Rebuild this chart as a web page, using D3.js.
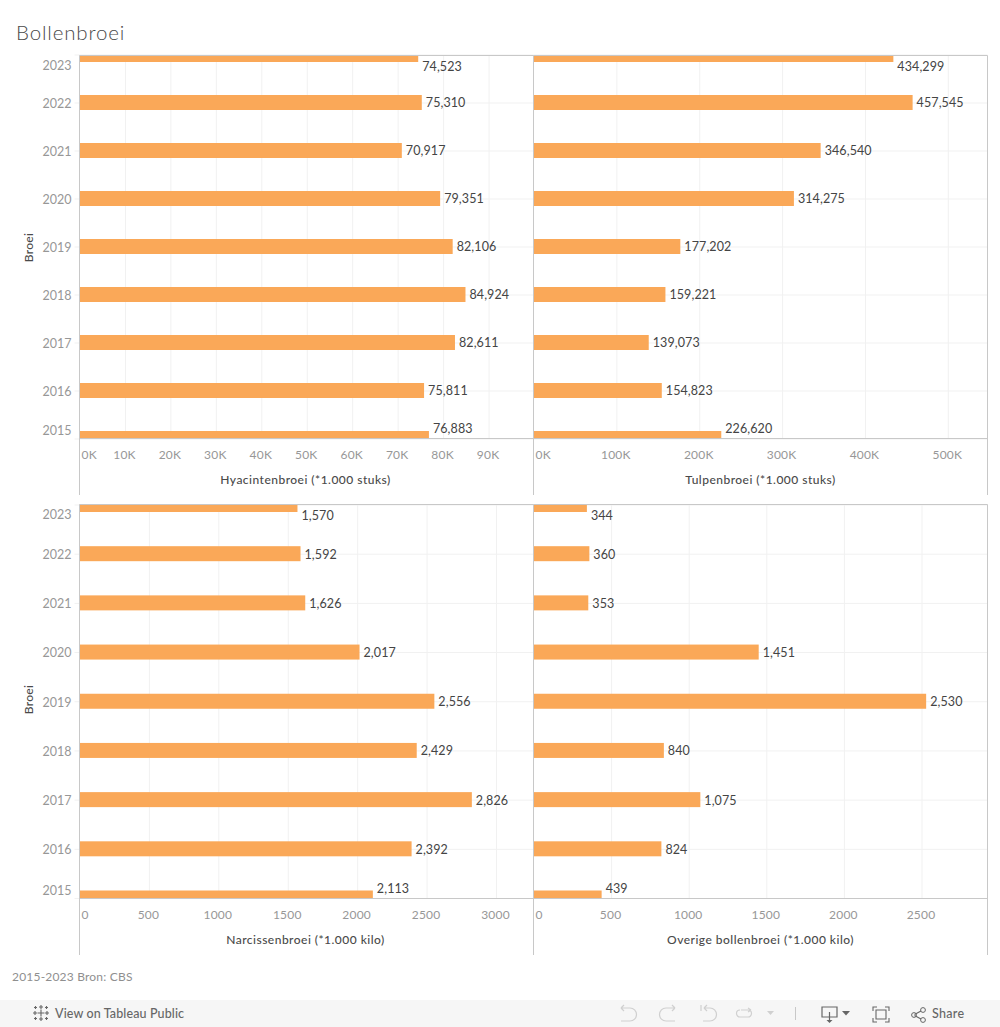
<!DOCTYPE html>
<html><head><meta charset="utf-8">
<script src="https://cdnjs.cloudflare.com/ajax/libs/d3/7.8.5/d3.min.js"></script>
<style>html,body{margin:0;padding:0;background:#fff}svg{display:block}
text{font-family:Lato,"Open Sans",sans-serif}</style></head><body>
<script>
const years = [2023,2022,2021,2020,2019,2018,2017,2016,2015];
const hyacint = [74523,75310,70917,79351,82106,84924,82611,75811,76883];
const tulp = [434299,457545,346540,314275,177202,159221,139073,154823,226620];
const narcis = [1570,1592,1626,2017,2556,2429,2826,2392,2113];
const overig = [344,360,353,1451,2530,840,1075,824,439];
const hyacintTicks = [0,10000,20000,30000,40000,50000,60000,70000,80000,90000];
const tulpTicks = [0,100000,200000,300000,400000,500000];
const narcisTicks = [0,500,1000,1500,2000,2500,3000];
const overigTicks = [0,500,1000,1500,2000,2500];

const W=1000,H=1027;
const svg=d3.select("body").append("svg").attr("width",W).attr("height",H);
const BAR="#faa858",AX="#c8c8c8",GR="#f1f1f1",TICK="#979797",DARK="#444444";
const kFmt=d=>(d/1000)+"K", nFmt=d=>String(d), valFmt=d3.format(",");

svg.append("text").attr("x",16).attr("y",39.5).attr("font-size",20.5).attr("font-weight",300)
  .attr("letter-spacing",0.85).attr("fill","#4a4a4a").text("Bollenbroei");

const defs=svg.append("defs");
function panel(id,x0,x1,top,bot,yTop,yBot,end,vals,dom,rng,ticks,fmt,title,showY){
  const x=d3.scaleLinear().domain(dom).range(rng);
  const y=d3.scalePoint().domain(years).range([yTop,yBot]);
  const g=svg.append("g");
  // gridlines
  const gx=g.append("g").attr("transform",`translate(0,${bot})`)
    .call(d3.axisBottom(x).tickValues(ticks).tickSize(-(bot-top)).tickFormat(fmt));
  gx.select(".domain").remove();
  gx.selectAll(".tick line").attr("stroke",GR).filter(d=>d===0).remove();
  gx.selectAll(".tick text").attr("y",16).attr("dy","0.35em").attr("font-size",12).attr("fill",TICK)
    .attr("font-family","Lato,sans-serif").attr("font-weight",400).attr("letter-spacing",0.2)
    .attr("text-anchor",d=>d===0?"start":"middle").attr("dx",d=>d===0?1.5:-1);
  const gy=g.append("g").attr("transform",`translate(${x0},0)`)
    .call(d3.axisLeft(y).tickSize(showY?5:0).tickFormat(d=>showY?d:""));
  gy.select(".domain").remove();
  gy.selectAll(".tick line").attr("stroke",GR);
  gy.selectAll(".tick").each(function(d){
     const s=d3.select(this);
     s.append("line").attr("x1",0).attr("x2",x1-x0).attr("stroke",GR);
     s.select("text").attr("x",-8).attr("font-size",12.5).attr("fill",TICK)
       .attr("font-family","Lato,sans-serif").attr("dy","0.35em")
       .attr("y",Math.max(top+9.5,Math.min(bot-8.5,y(d)))-y(d)+0.5);
  });
  // bars, clipped by the pane
  defs.append("clipPath").attr("id",id).append("rect").attr("x",x0).attr("y",top).attr("width",x1-x0).attr("height",bot-top);
  g.append("g").attr("clip-path",`url(#${id})`).selectAll("rect").data(vals).join("rect")
    .attr("x",x(0)).attr("y",(d,i)=>y(years[i])-7.5).attr("width",d=>x(d)-x(0)).attr("height",15).attr("fill",BAR);
  g.append("g").selectAll("text").data(vals).join("text")
    .attr("x",d=>x(d)+4).attr("y",(d,i)=>Math.max(top+11.5,Math.min(bot-9.5,y(years[i])+0.5)))
    .attr("dy","0.35em").attr("font-size",12.5).attr("letter-spacing",0.1).attr("fill",DARK).text(valFmt);
  // frame
  const line=(a,b,c,d)=>g.append("line").attr("x1",a).attr("y1",b).attr("x2",c).attr("y2",d).attr("stroke",AX).attr("stroke-width",1);
  line(x0,top,x1,top);line(x0,bot,x1,bot);line(x0,top,x0,end);line(x1,top,x1,end);
  g.append("text").attr("x",(x0+x1)/2+(showY?-1:0)).attr("y",bot+41).attr("dy","0.35em").attr("text-anchor","middle")
    .attr("font-size",12).attr("font-weight",500).attr("letter-spacing",0.48).attr("fill","#4a4a4a").text(title);
  if(showY) svg.append("text").attr("transform",`translate(29,${(top+bot)/2-(top>100?2:-0.5)}) rotate(-90)`).attr("dy","0.35em")
    .attr("text-anchor","middle").attr("font-size",12).attr("font-weight",500).attr("letter-spacing",0.3).attr("fill","#4a4a4a").text("Broei");
}
const XL=79.5,XM=533.5,XR=987.5;
panel("c1",XL,XM,55.5,438.5,54.5,438.5,495,hyacint,[0,100000],[XL,XL+454.5],hyacintTicks,kFmt,"Hyacintenbroei (*1.000 stuks)",true);
panel("c2",XM,XR,55.5,438.5,54.5,438.5,495,tulp,[0,500000],[XM,XM+414.3],tulpTicks,kFmt,"Tulpenbroei (*1.000 stuks)",false);
panel("c3",XL,XM,504.5,898.5,504.5,898,955,narcis,[0,3000],[XL,XL+416.5],narcisTicks,nFmt,"Narcissenbroei (*1.000 kilo)",true);
panel("c4",XM,XR,504.5,898.5,504.5,898,955,overig,[0,2500],[XM,XM+388],overigTicks,nFmt,"Overige bollenbroei (*1.000 kilo)",false);

svg.append("text").attr("x",12).attr("y",981).attr("font-size",12).attr("letter-spacing",0.2).attr("fill","#8f8f8f").text("2015-2023 Bron: CBS");

// Tableau toolbar
const tb=svg.append("g");
tb.append("rect").attr("x",0).attr("y",1000).attr("width",W).attr("height",27).attr("fill","#f6f6f6");
tb.append("text").attr("x",55).attr("y",1017.5).attr("font-size",12.5).attr("font-weight",500).attr("fill","#666").attr("font-family","Inter,sans-serif").attr("letter-spacing",0.12).text("View on Tableau Public");
tb.append("text").attr("x",932).attr("y",1017.5).attr("font-size",12.5).attr("font-weight",500).attr("fill","#666").attr("font-family","Inter,sans-serif").attr("letter-spacing",0.3).text("Share");
const ic=(d,c,w)=>tb.append("path").attr("d",d).attr("fill","none").attr("stroke",c||"#d0d0d0").attr("stroke-width",w||1.2);
// Tableau logo
[[41,1013,7],[35,1013,4],[47,1013,4],[41,1007,4],[41,1019,4],[35.5,1007.5,3],[46.5,1007.5,3],[35.5,1018.5,3],[46.5,1018.5,3]].forEach(([x,y,s])=>{
  ic(`M${x-s/2},${y}H${x+s/2}M${x},${y-s/2}V${y+s/2}`,"#666",1.1);
});
ic("M621,1008H630A5.5,5.5 0 0 1 630,1021H621M621,1008l3,-3M621,1008l3,3");
ic("M675,1008H666A5.5,5.5 0 0 0 666,1021H675M675,1008l-3,-3M675,1008l-3,3");
ic("M701,1005V1011M704,1008H710A5.5,5.5 0 0 1 710,1021H703M704,1008l3,-3M704,1008l3,3");
ic("M741,1010H748A3.5,3.5 0 0 1 748,1017H740A3.5,3.5 0 0 1 740,1010M751,1010l-3,-2M751,1010l-3,2");
tb.append("path").attr("d","M767,1011h7l-3.5,4z").attr("fill","#d0d0d0");
ic("M795.5,1007V1020","#c8c8c8",1);
ic("M822,1007H837V1017H822ZM829.5,1012V1022","#666",1.2);
tb.append("path").attr("d","M826.5,1020h6l-3,3z").attr("fill","#666");
tb.append("path").attr("d","M842,1011h8l-4,4.5z").attr("fill","#666");
ic("M873,1011V1007H877M885,1007H889V1011M889,1018V1022H885M877,1022H873V1018M876,1010H886V1019H876Z","#666",1.1);
ic("M914.5,1014.5L921,1011M914.5,1015.5L921,1019","#666",1.1);
tb.append("circle").attr("cx",914).attr("cy",1015).attr("r",2.4).attr("fill","none").attr("stroke","#666");
tb.append("circle").attr("cx",923).attr("cy",1010).attr("r",2.4).attr("fill","none").attr("stroke","#666");
tb.append("circle").attr("cx",923).attr("cy",1020).attr("r",2.4).attr("fill","none").attr("stroke","#666");
</script></body></html>
